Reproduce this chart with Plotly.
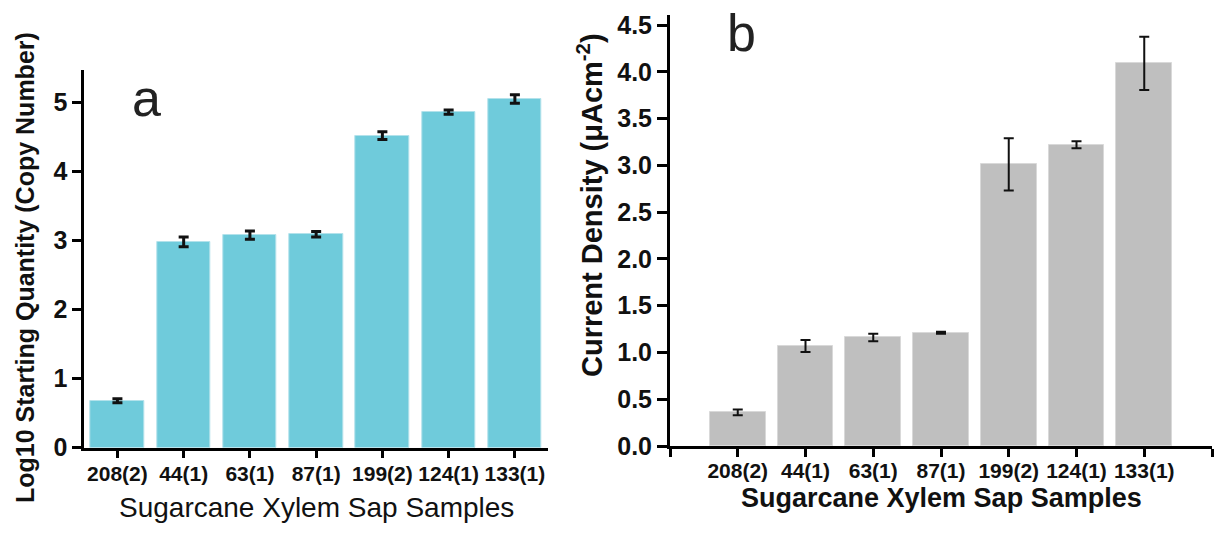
import plotly.graph_objects as go

W, H = 1215, 533

samples = ["208(2)", "44(1)", "63(1)", "87(1)", "199(2)", "124(1)", "133(1)"]
log_qty = [0.68, 2.98, 3.08, 3.09, 4.52, 4.86, 5.05]
log_qty_err = [0.03, 0.07, 0.06, 0.04, 0.055, 0.03, 0.06]
current_density = [0.36, 1.07, 1.16, 1.21, 3.01, 3.22, 4.09]
current_density_err = [0.03, 0.064, 0.04, 0.01, 0.28, 0.037, 0.285]

ya_ticks = [0, 1, 2, 3, 4, 5]
yb_ticks = [0.0, 0.5, 1.0, 1.5, 2.0, 2.5, 3.0, 3.5, 4.0, 4.5]

pos = list(range(len(samples)))

FAM = "Liberation Sans, Arial, sans-serif"

fig = go.Figure()
fig.add_trace(go.Bar(
    x=pos, y=log_qty, width=0.81,
    marker=dict(color="#6FCBDB", line=dict(color="#B3E2EB", width=1)),
    error_y=dict(type="data", array=log_qty_err, visible=True,
                 color="#111111", thickness=3, width=5),
    xaxis="x", yaxis="y", showlegend=False,
))
fig.add_trace(go.Bar(
    x=pos, y=current_density, width=0.82,
    marker=dict(color="#BFBFBF", line=dict(color="#D9D9D9", width=1)),
    error_y=dict(type="data", array=current_density_err, visible=True,
                 color="#111111", thickness=2, width=5),
    xaxis="x2", yaxis="y2", showlegend=False,
))

def px_x(v):
    return v / W

def px_y(v):
    return 1 - v / H

common_axis = dict(showgrid=False, zeroline=False, showline=True,
                   linecolor="#000000", ticks="outside", tickcolor="#000000",
                   mirror=False, automargin=False)

xtick_font = dict(family=FAM, size=21, color="#111111", weight="bold")
ytick_font = dict(family=FAM, size=25, color="#111111", weight="bold")

fig.update_layout(
    template="none",
    width=W, height=H, autosize=False,
    margin=dict(l=0, r=0, t=0, b=0, pad=0),
    paper_bgcolor="white", plot_bgcolor="white",
    bargap=0,
    xaxis=dict(common_axis, domain=[px_x(84.3), px_x(548)], range=[-0.5, 6.5],
               tickvals=pos, ticktext=samples, linewidth=3, tickwidth=3, ticklen=7,
               tickangle=0, tickfont=xtick_font, ticklabelstandoff=-2, anchor="y"),
    yaxis=dict(common_axis, domain=[px_y(447.7), px_y(70)], range=[0, 5.47],
               tickvals=ya_ticks, ticktext=[str(t) for t in ya_ticks],
               linewidth=3, tickwidth=3, ticklen=9,
               tickfont=ytick_font, anchor="x"),
    xaxis2=dict(common_axis, domain=[px_x(670), px_x(1212)], range=[-1, 7],
                tickvals=pos, ticktext=samples,
                linewidth=3, tickwidth=3, ticklen=8,
                minor=dict(tickvals=[-1, 7], ticks="outside", ticklen=8,
                           tickwidth=3, tickcolor="#000000", showgrid=False),
                tickangle=0, tickfont=xtick_font, ticklabelstandoff=-4, anchor="y2"),
    yaxis2=dict(common_axis, domain=[px_y(446), px_y(15)], range=[0, 4.607],
                tickvals=yb_ticks, ticktext=[f"{t:.1f}" for t in yb_ticks],
                linewidth=3, tickwidth=3, ticklen=10,
                tickfont=ytick_font, anchor="x2"),
)

ann = []
ann.append(dict(text="Log10 Starting Quantity (Copy Number)", textangle=-90,
                x=px_x(25), y=px_y(268), xref="paper", yref="paper",
                xanchor="center", yanchor="middle", showarrow=False,
                font=dict(family=FAM, size=25, color="#111111", weight="bold")))
ann.append(dict(text="Sugarcane Xylem Sap Samples",
                x=px_x(316.5), y=px_y(507), xref="paper", yref="paper",
                xanchor="center", yanchor="middle", showarrow=False,
                font=dict(family=FAM, size=28, color="#111111")))
ann.append(dict(text="Current Density (μAcm<sup>-2</sup>)", textangle=-90,
                x=px_x(590), y=px_y(205), xref="paper", yref="paper",
                xanchor="center", yanchor="middle", showarrow=False,
                font=dict(family=FAM, size=29, color="#111111", weight="bold")))
ann.append(dict(text="Sugarcane Xylem Sap Samples",
                x=px_x(941), y=px_y(498), xref="paper", yref="paper",
                xanchor="center", yanchor="middle", showarrow=False,
                font=dict(family=FAM, size=27, color="#111111", weight="bold")))
ann.append(dict(text="a", x=px_x(146.5), y=px_y(98), xref="paper", yref="paper",
                xanchor="center", yanchor="middle", showarrow=False,
                font=dict(family=FAM, size=52, color="#222222")))
ann.append(dict(text="b", x=px_x(741), y=px_y(33), xref="paper", yref="paper",
                xanchor="center", yanchor="middle", showarrow=False,
                font=dict(family=FAM, size=52, color="#222222")))
fig.update_layout(annotations=ann)

fig.write_html("out.html")
